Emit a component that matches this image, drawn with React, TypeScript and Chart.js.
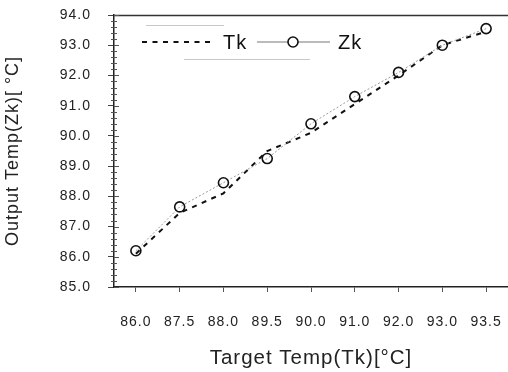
import React, { useEffect, useRef } from "react";
import { Chart, registerables } from "chart.js";

Chart.register(...registerables);

const categories = ["86.0", "87.5", "88.0", "89.5", "90.0", "91.0", "92.0", "93.0", "93.5"];
const tkValues = [86.1, 87.45, 88.1, 89.5, 90.1, 91.05, 92.0, 93.0, 93.45];
const zkValues = [86.2, 87.65, 88.45, 89.25, 90.4, 91.3, 92.1, 93.0, 93.55];
const yMin = 85;
const yMax = 94;
const yStep = 1;
const yMinorStep = 0.2;
const seriesNames = ["Tk", "Zk"];
const xTitle = "Target Temp(Tk)[°C]";
const yTitle = "Output Temp(Zk)[ °C]";

const FONT = "'Liberation Sans', Arial, sans-serif";

const setSpacing = (chart: any) => {
  try {
    chart.ctx.letterSpacing = "1px";
  } catch (e) {}
};

const decorPlugin = {
  id: "decor",
  beforeUpdate(chart: any) { setSpacing(chart); },
  beforeLayout(chart: any) { setSpacing(chart); },
  beforeDraw(chart: any) { setSpacing(chart); },
  afterDatasetsDraw(chart: any) {
    const { ctx, chartArea } = chart;
    const { left, top, right } = chartArea;
    const ys = chart.scales.y;
    ctx.save();
    // top frame line
    ctx.strokeStyle = "#333";
    ctx.lineWidth = 1.5;
    ctx.beginPath();
    ctx.moveTo(left, top + 0.5);
    ctx.lineTo(right, top + 0.5);
    ctx.stroke();

    // minor ticks on y axis
    ctx.strokeStyle = "#555";
    ctx.lineWidth = 1;
    ctx.beginPath();
    for (let v = yMin; v <= yMax + 1e-9; v += yMinorStep) {
      const py = Math.round(ys.getPixelForValue(v)) + 0.5;
      const major = Math.abs(v - Math.round(v)) < 1e-6;
      ctx.moveTo(left - (major ? 0 : 3), py);
      ctx.lineTo(left + (major ? 5 : 3), py);
    }
    ctx.stroke();

    // legend box faint lines
    ctx.strokeStyle = "#c8c8c8";
    ctx.lineWidth = 1;
    ctx.beginPath();
    ctx.moveTo(left + 32, top + 10.5);
    ctx.lineTo(left + 110, top + 10.5);
    ctx.moveTo(left + 70, top + 44.5);
    ctx.lineTo(left + 196, top + 44.5);
    ctx.stroke();

    const ly = top + 27;
    // Tk sample
    ctx.strokeStyle = "#111";
    ctx.lineWidth = 2;
    ctx.setLineDash([5, 5.5]);
    ctx.beginPath();
    ctx.moveTo(left + 28, ly);
    ctx.lineTo(left + 101, ly);
    ctx.stroke();
    ctx.setLineDash([]);
    ctx.fillStyle = "#111";
    ctx.font = `20px ${FONT}`;
    ctx.textBaseline = "middle";
    ctx.textAlign = "left";
    ctx.fillText(seriesNames[0], left + 109, ly + 1);
    // Zk sample
    ctx.strokeStyle = "#777";
    ctx.lineWidth = 1;
    ctx.beginPath();
    ctx.moveTo(left + 143, ly);
    ctx.lineTo(left + 216, ly);
    ctx.stroke();
    ctx.strokeStyle = "#111";
    ctx.lineWidth = 1.6;
    ctx.fillStyle = "#fff";
    ctx.beginPath();
    ctx.arc(left + 179, ly, 5, 0, Math.PI * 2);
    ctx.fill();
    ctx.stroke();
    ctx.fillStyle = "#111";
    ctx.fillText(seriesNames[1], left + 224, ly + 1);
    ctx.restore();
  },
};

export default function App() {
  const ref = useRef<HTMLCanvasElement>(null);
  useEffect(() => {
    if (!ref.current) return;
    const chart = new Chart(ref.current, {
      type: "line",
      data: {
        labels: categories,
        datasets: [
          {
            label: seriesNames[1],
            data: zkValues,
            borderColor: "#9a9a9a",
            borderWidth: 1,
            borderDash: [2, 2],
            pointRadius: 5,
            pointBorderWidth: 1.6,
            pointBorderColor: "#111",
            pointBackgroundColor: "rgba(255,255,255,0)",
            tension: 0,
          },
          {
            label: seriesNames[0],
            data: tkValues,
            borderColor: "#111",
            borderWidth: 2,
            borderDash: [5, 5.5],
            pointRadius: 0,
            tension: 0,
          },
        ],
      },
      options: {
        animation: false,
        responsive: false,
        devicePixelRatio: 1,
        layout: { autoPadding: false, padding: { top: 15, right: 0, bottom: 1, left: 0 } },
        plugins: { legend: { display: false }, tooltip: { enabled: false } },
        scales: {
          x: {
            type: "category",
            offset: true,
            grid: { drawOnChartArea: false, color: "#555", tickLength: 5 },
            border: { color: "#222", width: 1.5 },
            ticks: { color: "#222", font: { family: FONT, size: 14 }, padding: 22, maxRotation: 0, autoSkip: false },
            title: { display: true, text: xTitle, color: "#222", font: { family: FONT, size: 20.5 }, padding: { top: 0, bottom: 0 } },
            afterFit: (s: any) => {
              s.height = 84;
              s.paddingLeft = 0;
              s.paddingRight = 0;
            },
          },
          y: {
            min: yMin,
            max: yMax,
            grid: { drawOnChartArea: false, color: "#444", tickLength: 6 },
            border: { color: "#222", width: 1.5 },
            ticks: {
              stepSize: yStep,
              color: "#222",
              font: { family: FONT, size: 14 },
              padding: 17,
              callback: (v: any) => Number(v).toFixed(1),
            },
            title: { display: true, text: yTitle, color: "#222", font: { family: FONT, size: 18 }, padding: { top: 2, bottom: 0 } },
            afterFit: (s: any) => {
              s.width = 114;
              s.paddingTop = 0;
              s.paddingBottom = 0;
            },
          },
        },
      },
      plugins: [decorPlugin],
    });
    return () => chart.destroy();
  }, []);
  return (
    <div style={{ position: "fixed", left: 0, top: 0, width: 508, height: 372, background: "#fff" }}>
      <canvas ref={ref} width={508} height={372} style={{ width: 508, height: 372, display: "block" }} />
    </div>
  );
}
